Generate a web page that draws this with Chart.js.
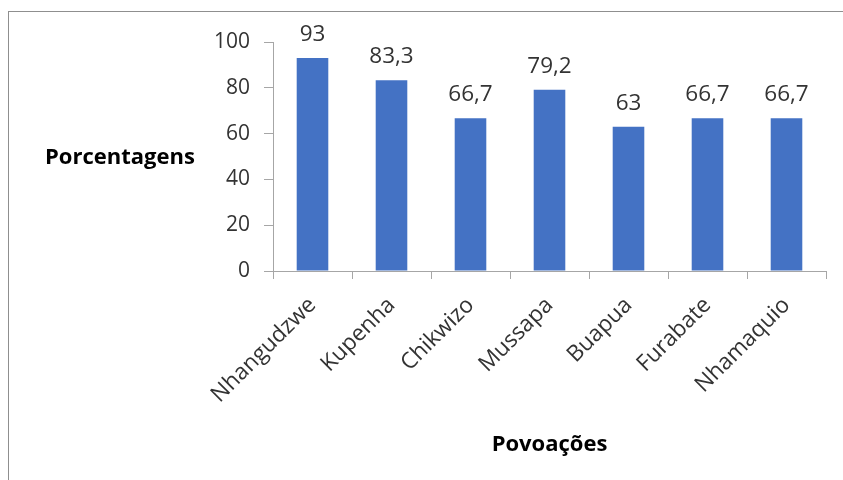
<!DOCTYPE html>
<html>
<head>
<meta charset="utf-8">
<script src="https://cdn.jsdelivr.net/npm/chart.js@4"></script>
<style>
  html, body { margin: 0; padding: 0; background: #fff; overflow: hidden; }
  #frame { position: absolute; left: 8px; top: 11px; width: 900px; height: 600px; border: 1px solid #8f8f8f; }
  #wrap { position: absolute; left: 0; top: 0; width: 843px; height: 480px; }
</style>
</head>
<body>
<div id="frame"></div>
<div id="wrap"><canvas id="barChart"></canvas></div>
<script>
var povoacoes = ["Nhangudzwe", "Kupenha", "Chikwizo", "Mussapa", "Buapua", "Furabate", "Nhamaquio"];
var porcentagens = [93, 83.3, 66.7, 79.2, 63, 66.7, 66.7];
var yTicks = [0, 20, 40, 60, 80, 100];

var fontFam = "'Open Sans', sans-serif";
var textColor = "#333333";
var axisColor = "#a6a6a6";

// data labels above the bars, comma as decimal separator
var valueLabels = {
    id: 'valueLabels',
    afterDatasetsDraw: function(chart) {
        var ctx = chart.ctx;
        var meta = chart.getDatasetMeta(0);
        ctx.save();
        ctx.font = "22.5px " + fontFam;
        ctx.fillStyle = textColor;
        ctx.textAlign = "center";
        ctx.textBaseline = "alphabetic";
        meta.data.forEach(function(bar, i) {
            var txt = String(porcentagens[i]).replace('.', ',');
            ctx.fillText(txt, bar.x, bar.y - 17);
        });
        ctx.restore();
    }
};

// horizontal y axis title, like the original
var yTitle = {
    id: 'yTitle',
    afterDraw: function(chart) {
        var ctx = chart.ctx;
        ctx.save();
        ctx.font = "bold 22px " + fontFam;
        ctx.fillStyle = "#000";
        ctx.textAlign = "left";
        ctx.textBaseline = "alphabetic";
        ctx.fillText("Porcentagens", 45, 164);
        ctx.restore();
    }
};

var ctxB = document.getElementById("barChart").getContext('2d');

var myBarChart = new Chart(ctxB, {
    type: 'bar',
    data: {
        labels: povoacoes,
        datasets: [{
            data: porcentagens,
            backgroundColor: "#4472C4",
            barPercentage: 0.4,
            categoryPercentage: 1.0
        }]
    },
    options: {
        responsive: true,
        maintainAspectRatio: false,
        animation: false,
        layout: { padding: { left: 0, right: 17, top: 42, bottom: 0 } },
        plugins: {
            legend: { display: false },
            tooltip: { enabled: false }
        },
        scales: {
            x: {
                grid: { display: true, drawOnChartArea: false, offset: true, color: axisColor, tickLength: 8 },
                border: { color: axisColor },
                ticks: {
                    color: textColor,
                    font: { family: fontFam, size: 22.5 },
                    minRotation: 45,
                    maxRotation: 45,
                    padding: 13
                },
                title: {
                    display: true,
                    text: "Povoações",
                    color: "#000",
                    font: { family: fontFam, size: 22, weight: 'bold' },
                    padding: { top: 0, bottom: 22 }
                },
                afterFit: function(scale) { scale.height = 209; }
            },
            y: {
                min: 0,
                max: 100,
                afterBuildTicks: function(scale) {
                    scale.ticks = yTicks.map(function(v) { return { value: v }; });
                },
                grid: { display: true, drawOnChartArea: false, color: axisColor, tickLength: 9 },
                border: { color: axisColor },
                ticks: {
                    color: textColor,
                    font: { family: fontFam, size: 21 },
                    padding: 14
                },
                afterFit: function(scale) { scale.width = 273; }
            }
        }
    },
    plugins: [valueLabels, yTitle]
});
</script>
</body>
</html>
